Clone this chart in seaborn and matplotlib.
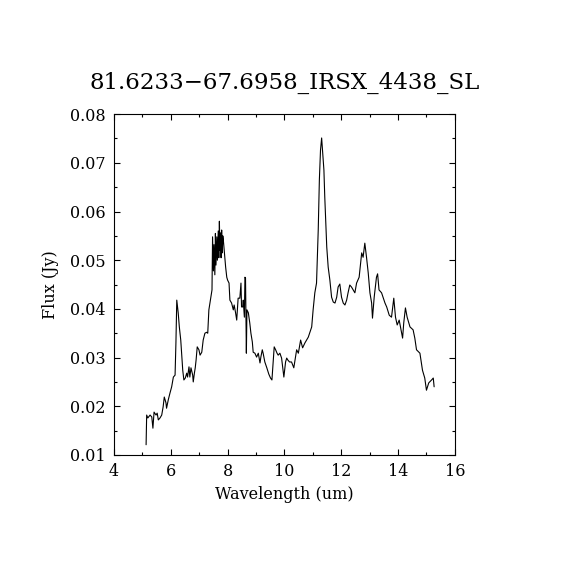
import pandas as pd
import numpy as np
import matplotlib
matplotlib.use("Agg")
import matplotlib.pyplot as plt
import seaborn as sns
from matplotlib.ticker import MultipleLocator, FormatStrFormatter

# spectrum
wavelength = [5.13, 5.15, 5.19, 5.27, 5.33, 5.37, 5.41, 5.48, 5.52, 5.56,
              5.62, 5.68, 5.73, 5.77, 5.83, 5.85, 5.91, 5.97, 6.03, 6.09,
              6.15, 6.18, 6.21, 6.26, 6.30, 6.35, 6.38, 6.42, 6.46, 6.51,
              6.56, 6.59, 6.64, 6.67, 6.71, 6.77, 6.79, 6.83, 6.86, 6.89,
              6.93, 6.99, 7.03, 7.09, 7.14, 7.20, 7.26, 7.30, 7.34, 7.41,
              7.45, 7.47, 7.50, 7.52, 7.55, 7.57, 7.59, 7.62, 7.64, 7.67,
              7.69, 7.71, 7.73, 7.75, 7.77, 7.79, 7.81, 7.83, 7.85, 7.88,
              7.93, 7.97, 8.00, 8.05, 8.08, 8.14,
              8.20, 8.23, 8.28, 8.32, 8.35, 8.37, 8.43, 8.47, 8.49, 8.53,
              8.55, 8.59, 8.61, 8.63, 8.66, 8.68, 8.73, 8.78, 8.82, 8.87,
              8.90, 8.96, 9.02, 9.08, 9.14, 9.17, 9.22, 9.25, 9.31, 9.38,
              9.45, 9.51, 9.56, 9.61, 9.64, 9.69, 9.74, 9.78, 9.84, 9.90,
              9.95, 9.98, 10.04, 10.08, 10.12, 10.18, 10.25, 10.33, 10.43, 10.49,
              10.57, 10.64, 10.72, 10.84, 10.96, 11.01, 11.07, 11.13, 11.19, 11.23,
              11.27, 11.31, 11.34, 11.39, 11.42, 11.49, 11.54, 11.60, 11.66, 11.72,
              11.78, 11.84, 11.89, 11.95, 12.01, 12.07, 12.13, 12.19, 12.24, 12.30,
              12.36, 12.42, 12.48, 12.54, 12.63, 12.72, 12.77, 12.83, 12.89, 12.95,
              13.01, 13.07, 13.10, 13.16, 13.24, 13.28, 13.33, 13.42, 13.54, 13.60,
              13.69, 13.77, 13.85, 13.91, 13.97, 14.04, 14.16, 14.20, 14.26, 14.32,
              14.42, 14.53, 14.59, 14.65, 14.77, 14.86, 14.94, 15.00, 15.08, 15.18,
              15.24, 15.27]
flux = [0.0121, 0.0182, 0.0176, 0.0182, 0.0178, 0.0155, 0.0188, 0.0182, 0.0186, 0.0172,
        0.0176, 0.0182, 0.0199, 0.0219, 0.0207, 0.0196, 0.0213, 0.0227, 0.0240, 0.0260,
        0.0264, 0.0330, 0.0418, 0.0392, 0.0363, 0.0336, 0.0309, 0.0274, 0.0254, 0.0258,
        0.0268, 0.0260, 0.0281, 0.0260, 0.0279, 0.0264, 0.0250, 0.0268, 0.0279, 0.0295,
        0.0322, 0.0316, 0.0305, 0.0311, 0.0336, 0.0350, 0.0352, 0.0350, 0.0398, 0.0424,
        0.0439, 0.0548, 0.0478, 0.0532, 0.0470, 0.0555, 0.0490, 0.0548, 0.0500, 0.0560,
        0.0505, 0.0580, 0.0520, 0.0556, 0.0505, 0.0562, 0.0515, 0.0550, 0.0541, 0.0521,
        0.0486, 0.0465, 0.0459, 0.0453, 0.0418, 0.0412,
        0.0398, 0.0408, 0.0392, 0.0377, 0.0404, 0.0422, 0.0422, 0.0453, 0.0404, 0.0404,
        0.0418, 0.0383, 0.0465, 0.0463, 0.0309, 0.0398, 0.0392, 0.0371, 0.0350, 0.0332,
        0.0311, 0.0309, 0.0301, 0.0309, 0.0289, 0.0301, 0.0316, 0.0309, 0.0291, 0.0279,
        0.0266, 0.0258, 0.0254, 0.0295, 0.0322, 0.0316, 0.0309, 0.0305, 0.0309, 0.0299,
        0.0274, 0.0260, 0.0291, 0.0299, 0.0295, 0.0291, 0.0291, 0.0279, 0.0316, 0.0309,
        0.0336, 0.0320, 0.0330, 0.0342, 0.0363, 0.0398, 0.0433, 0.0453, 0.0562, 0.0665,
        0.0726, 0.0751, 0.0726, 0.0685, 0.0630, 0.0527, 0.0486, 0.0459, 0.0424, 0.0414,
        0.0412, 0.0424, 0.0445, 0.0451, 0.0424, 0.0412, 0.0408, 0.0418, 0.0433, 0.0449,
        0.0445, 0.0439, 0.0433, 0.0453, 0.0465, 0.0515, 0.0506, 0.0535, 0.0506, 0.0474,
        0.0433, 0.0412, 0.0381, 0.0424, 0.0465, 0.0472, 0.0439, 0.0433, 0.0412, 0.0404,
        0.0387, 0.0383, 0.0422, 0.0383, 0.0367, 0.0377, 0.0340, 0.0371, 0.0402, 0.0383,
        0.0363, 0.0357, 0.0340, 0.0316, 0.0309, 0.0274, 0.0258, 0.0233, 0.0248, 0.0254,
        0.0258, 0.0240]

title = "81.6233\u221267.6958_IRSX_4438_SL"

spec = pd.DataFrame({"wave": wavelength, "flux": flux})

sns.set_style("ticks")
plt.rcParams["font.family"] = ["DejaVu Serif"]
plt.rcParams["text.color"] = "black"
plt.rcParams["axes.labelcolor"] = "black"

fig = plt.figure(figsize=(5.7, 5.7), dpi=100)
ax = fig.add_axes([0.2, 0.2018, 0.598, 0.598])

sns.lineplot(data=spec, x="wave", y="flux", sort=False, estimator=None,
             color="black", linewidth=0.8, ax=ax)

ax.set_xlim(4, 16)
ax.set_ylim(0.01, 0.08)
ax.xaxis.set_major_locator(MultipleLocator(2))
ax.xaxis.set_minor_locator(MultipleLocator(1))
ax.yaxis.set_major_locator(MultipleLocator(0.01))
ax.yaxis.set_minor_locator(MultipleLocator(0.005))
ax.yaxis.set_major_formatter(FormatStrFormatter("%.2f"))
ax.tick_params(which="both", direction="in", top=True, right=True,
               width=0.8, colors="black", labelsize=11.5)
ax.tick_params(which="major", length=4.5, pad=6)
ax.tick_params(which="minor", length=2.3)
for s in ax.spines.values():
    s.set_linewidth(0.8)
    s.set_color("black")

ax.set_xlabel("Wavelength (um)", fontsize=11.5, labelpad=4, color="black")
ax.set_ylabel("Flux (Jy)", fontsize=11.5, labelpad=8, color="black")
ax.set_title(title, fontsize=16.5, pad=18, color="black")

fig.savefig("out.png", dpi=100, facecolor="white")
